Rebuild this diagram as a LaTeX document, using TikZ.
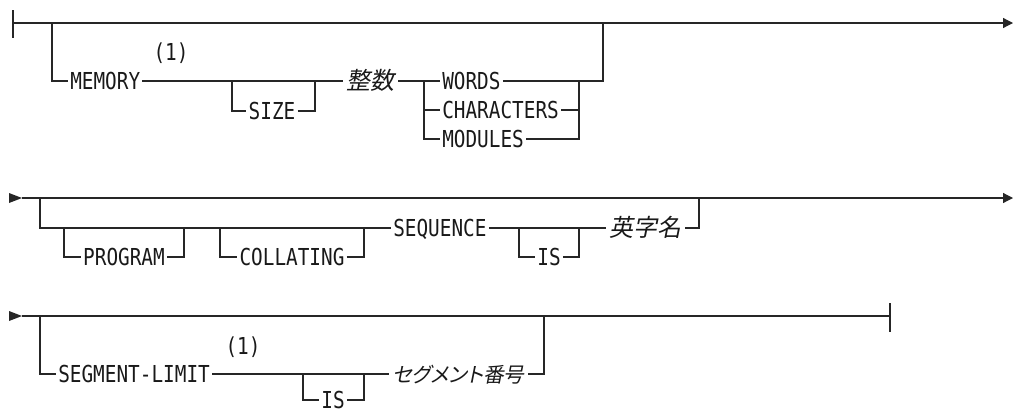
\documentclass[tikz,border=0pt]{standalone}
\usepackage{fontspec}
\usetikzlibrary{arrows.meta}
\newfontfamily\railfont[FakeStretch=0.83]{DejaVu Sans Mono}
\newfontfamily\cjkfont[FakeSlant=0.2,RawFeature=+palt]{Noto Sans CJK JP}

\begin{document}
\begin{tikzpicture}[
    x=0.75pt, y=-0.75pt,
    rail/.style={line width=0.9pt, draw=black!85},
    kw/.style={inner xsep=1.5pt, inner ysep=0pt, text height=12pt, text depth=0pt,
        anchor=west, text=black!90, font=\railfont\fontsize{17.5pt}{19pt}\selectfont},
    opt/.style={kw, anchor=center},
    var/.style={kw, inner xsep=2.5pt, font=\cjkfont\fontsize{18pt}{20pt}\selectfont},
    note/.style={inner sep=0pt, text=black!90, font=\railfont\fontsize{17.5pt}{19pt}\selectfont},
    tip/.style={-{Triangle[length=7.5pt,width=7.5pt]}},
    declare function={
        rowA=23; rowB=198; rowC=316;
    }
  ]
    \useasboundingbox (0,0) rectangle (1013,411);

    % first row
    \coordinate (startA) at (13,rowA);
    \coordinate (endA) at (1013,rowA);
    \coordinate (a1) at (52,rowA);
    \coordinate (a2) at (232,81);
    \coordinate (a3) at (315,81);
    \coordinate (a4) at (424,81);
    \coordinate (a5) at (579,81);
    \coordinate (a6) at (603,rowA);

    \node[kw] (memory) at (68,81) {MEMORY};
    \node[note] (noteA) at (171,53) {(1)};
    \node[opt] (size) at (272,111) {SIZE};
    \node[var] (int) at (343,81) {整数};
    \node[kw] (words) at (440,81) {WORDS};
    \node[kw] (chars) at (440,110) {CHARACTERS};
    \node[kw] (modules) at (440,139) {MODULES};

    \draw[rail] (startA) ++(0,-13) -- ++(0,28);
    \draw[rail, tip] (startA) -- (endA);
    \draw[rail] (a1) |- (memory.west);
    \draw[rail] (memory.east) -- (int.west);
    \draw[rail] (a2) |- (size.west);
    \draw[rail] (size.east) -| (a3);
    \draw[rail] (int.east) -- (words.west);
    \draw[rail] (a4) |- (modules.west);
    \draw[rail] (a4 |- chars.west) -- (chars.west);
    \draw[rail] (words.east) -- (a5 -| a6) -- (a6);
    \draw[rail] (chars.east) -- (a5 |- chars.east);
    \draw[rail] (modules.east) -| (a5);

    % second row
    \coordinate (startB) at (22,rowB);
    \coordinate (endB) at (1013,rowB);
    \coordinate (b1) at (40,rowB);
    \coordinate (b2) at (64,228);
    \coordinate (b3) at (184,228);
    \coordinate (b4) at (220,228);
    \coordinate (b5) at (364,228);
    \coordinate (b6) at (519,228);
    \coordinate (b7) at (579,228);
    \coordinate (b8) at (699,rowB);

    \node[opt] (program) at (124,257) {PROGRAM};
    \node[opt] (collating) at (292,257) {COLLATING};
    \node[kw] (sequence) at (391,228) {SEQUENCE};
    \node[opt] (isB) at (549,257) {IS};
    \node[var] (alpha) at (606,228) {英字名};

    \fill[black!85] (startB) -- ++(-13,-5) -- ++(0,10) -- cycle;
    \draw[rail, tip] (startB) -- (endB);
    \draw[rail] (b1) |- (sequence.west);
    \draw[rail] (b2) |- (program.west);
    \draw[rail] (program.east) -| (b3);
    \draw[rail] (b4) |- (collating.west);
    \draw[rail] (collating.east) -| (b5);
    \draw[rail] (sequence.east) -- (alpha.west);
    \draw[rail] (b6) |- (isB.west);
    \draw[rail] (isB.east) -| (b7);
    \draw[rail] (alpha.east) -| (b8);

    % third row
    \coordinate (startC) at (22,rowC);
    \coordinate (endC) at (890,rowC);
    \coordinate (c1) at (40,rowC);
    \coordinate (c2) at (303,374);
    \coordinate (c3) at (364,374);
    \coordinate (c4) at (544,rowC);

    \node[kw] (seglimit) at (56,374) {SEGMENT-LIMIT};
    \node[note] (noteB) at (243,347) {(1)};
    \node[opt] (isC) at (333,400) {IS};
    \node[var, font=\cjkfont\fontsize{15.5pt}{18pt}\selectfont] (segno) at (389,374) {セグメント番号};

    \fill[black!85] (startC) -- ++(-13,-5) -- ++(0,10) -- cycle;
    \draw[rail] (startC) -- (endC);
    \draw[rail] (endC) ++(0,-13) -- ++(0,29);
    \draw[rail, line width=1.6pt] (c4) ++(5,0) -- ++(19,0);
    \draw[rail] (c1) |- (seglimit.west);
    \draw[rail] (seglimit.east) -- (segno.west);
    \draw[rail] (c2) |- (isC.west);
    \draw[rail] (isC.east) -| (c3);
    \draw[rail] (segno.east) -| (c4);
\end{tikzpicture}
\end{document}
